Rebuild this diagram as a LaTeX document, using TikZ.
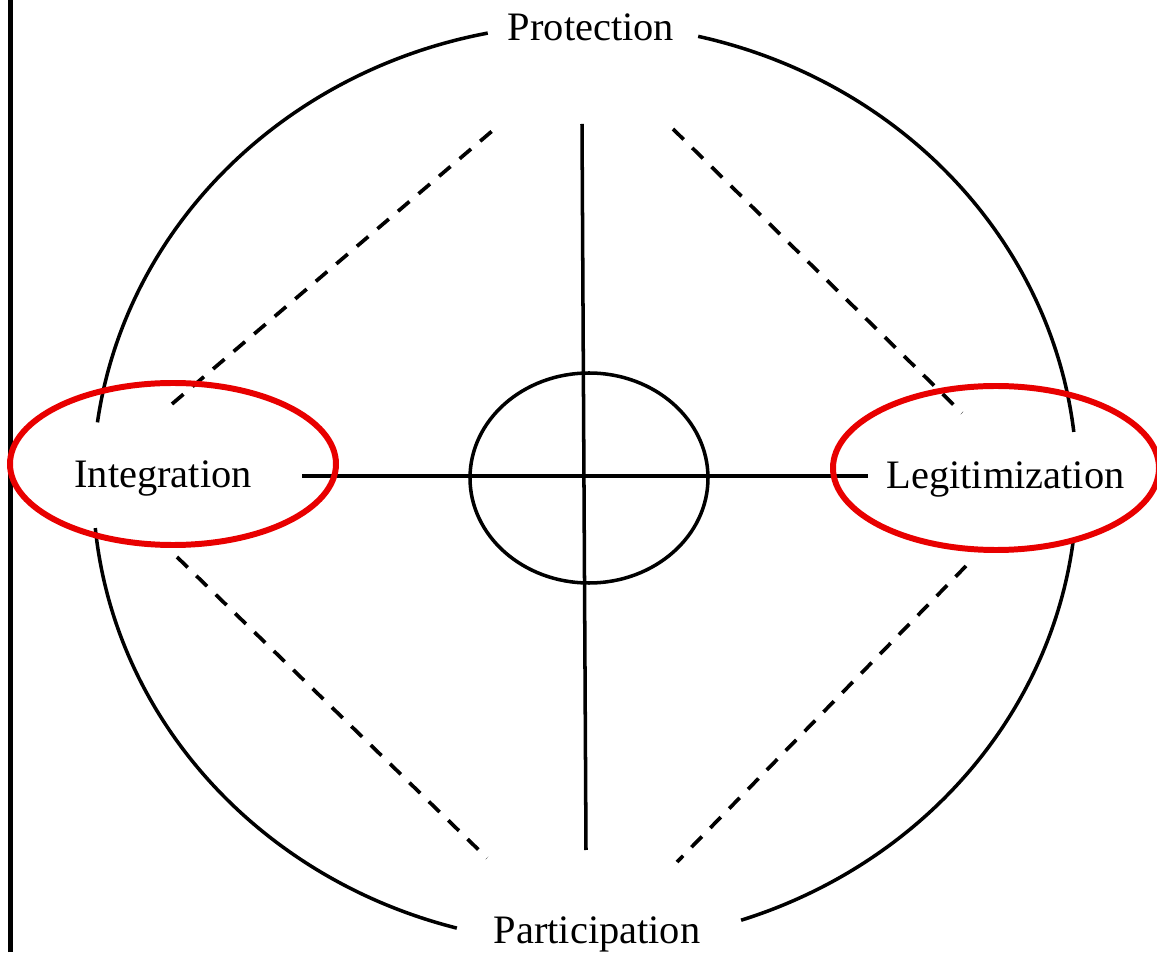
\documentclass[tikz,border=0pt]{standalone}
\usepackage{fontspec}
\setmainfont{Liberation Serif}
\usetikzlibrary{calc}

\begin{document}
\begin{tikzpicture}[
    mainLine/.style={line width=2pt, draw=borderColour},
    dashLine/.style={line width=2.1pt, draw=borderColour, dash pattern=on 0.30cm off 0.24cm},
    highlight/.style={line width=3.4pt, draw=markRed},
    labelText/.style={font=\fontsize{23}{28}\selectfont, inner sep=0pt, anchor=base}
]
    % Define colours
    \definecolor{borderColour}{HTML}{000000}
    \definecolor{markRed}{HTML}{E80000}

    % Define radii of the outer ring
    \def\ringRx{9.84}
    \def\ringRy{9.20}

    % Fix the page size
    \useasboundingbox (0,0) rectangle (23.14,19.04);

    % Draw the frame line on the left
    \draw[mainLine, line width=2.4pt] (0.21,0) -- (0.21,19.04);

    % Draw the outer ring, broken at the four labels
    \coordinate (ringCentre) at (11.70,9.36);
    \foreach \s/\e in {6.5/76.7, 101.4/172.3, 185.5/254.9, 288.5/352.8}
        \draw[mainLine] ($(ringCentre)+(\s:\ringRx cm and \ringRy cm)$)
            arc[start angle=\s, end angle=\e, x radius=\ringRx cm, y radius=\ringRy cm];

    % Label the four poles
    \node[labelText] (protection) at (11.82,18.22) {Protection};
    \node[labelText] (integration) at (3.26,9.28) {Integration};
    \node[labelText] (legitimization) at (20.11,9.26) {Legitimization};
    \node[labelText] (participation) at (11.94,0.18) {Participation};

    % Define end points of the axes
    \coordinate (axisTop) at (11.64,16.56);
    \coordinate (axisBottom) at (11.72,2.04);
    \coordinate (axisLeft) at (6.04,9.52);
    \coordinate (axisRight) at (17.36,9.52);

    % Draw the axes
    \draw[mainLine] (axisTop) -- (axisBottom);
    \draw[mainLine] (axisLeft) -- (axisRight);

    % Draw the inner circle
    \draw[mainLine] (11.78,9.48) ellipse [x radius=2.38, y radius=2.10];

    % Define end points of the dashed diagonals
    \coordinate (upLeftA) at (3.44,10.96);
    \coordinate (upLeftB) at (9.96,16.52);
    \coordinate (upRightA) at (13.46,16.46);
    \coordinate (upRightB) at (19.24,10.78);
    \coordinate (lowLeftA) at (3.54,7.90);
    \coordinate (lowLeftB) at (9.74,1.88);
    \coordinate (lowRightA) at (19.32,7.72);
    \coordinate (lowRightB) at (13.54,1.80);

    % Draw the dashed diagonals
    \draw[dashLine] (upLeftA) -- (upLeftB);
    \draw[dashLine] (upRightA) -- (upRightB);
    \draw[dashLine] (lowLeftA) -- (lowLeftB);
    \draw[dashLine] (lowRightA) -- (lowRightB);

    % Draw the red marks round two of the labels
    \draw[highlight] (3.46,9.76) ellipse [x radius=3.26, y radius=1.62];
    \draw[highlight] (19.92,9.68) ellipse [x radius=3.26, y radius=1.64];

\end{tikzpicture}
\end{document}
